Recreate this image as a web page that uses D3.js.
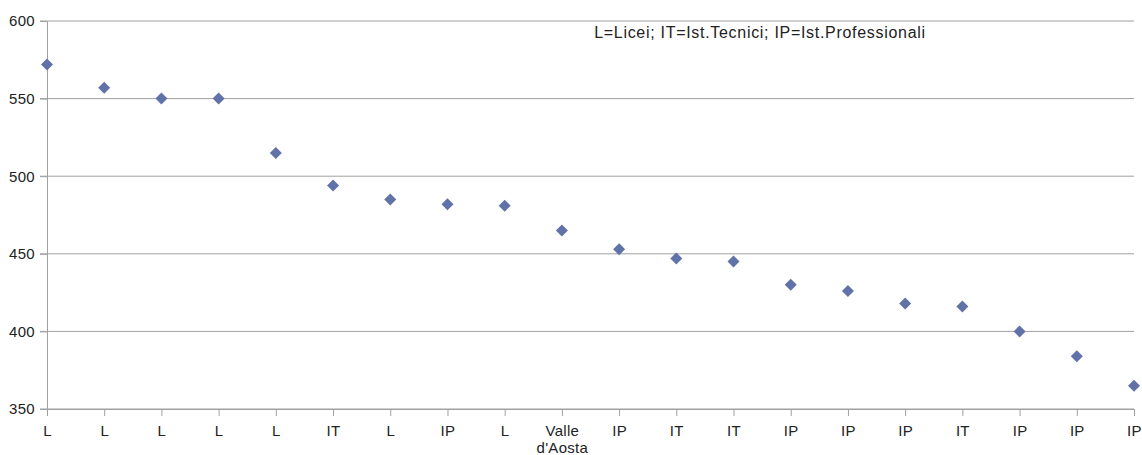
<!DOCTYPE html>
<html>
<head>
<meta charset="utf-8">
<script src="https://cdn.jsdelivr.net/npm/d3@7"></script>
<style>
  body { margin: 0; background: #fff; }
  svg text { font-family: "Liberation Sans", Arial, sans-serif; fill: #222; }
</style>
</head>
<body>
<div id="chart"></div>
<script>
// Categories (school type), one per point.
const categories = ["L", "L", "L", "L", "L", "IT", "L", "IP", "L", "Valle\nd'Aosta",
  "IP", "IT", "IT", "IP", "IP", "IP", "IT", "IP", "IP", "IP"];
// Scores.
const scores = [572, 557, 550, 550, 515, 494, 485, 482, 481, 465,
  453, 447, 445, 430, 426, 418, 416, 400, 384, 365];
const yTicks = [350, 400, 450, 500, 550, 600];
const note = "L=Licei; IT=Ist.Tecnici; IP=Ist.Professionali";

const width = 1142, height = 455;
const margin = { top: 21, right: 8, bottom: 46, left: 47 };

const svg = d3.select("#chart").append("svg")
  .attr("width", width).attr("height", height);

const x = d3.scalePoint()
  .domain(d3.range(categories.length))
  .range([margin.left, width - margin.right]);

const y = d3.scaleLinear()
  .domain([350, 600])
  .range([height - margin.bottom, margin.top]);

// Gridlines.
svg.append("g")
  .selectAll("line")
  .data(yTicks)
  .join("line")
  .attr("x1", margin.left - 7)
  .attr("x2", width - margin.right)
  .attr("y1", (d) => y(d))
  .attr("y2", (d) => y(d))
  .attr("stroke", "#a0a0a0")
  .attr("stroke-width", 1);

// Y axis.
const yAxis = svg.append("g")
  .attr("transform", `translate(${margin.left},0)`)
  .call(d3.axisLeft(y).tickValues(yTicks).tickSize(7).tickPadding(5));
yAxis.select(".domain").attr("stroke", "#a0a0a0");
yAxis.selectAll(".tick line").attr("stroke", "#a0a0a0");
yAxis.selectAll(".tick text")
  .style("font-size", "15px")
  .style("letter-spacing", "0.3px")
  .attr("fill", "#222");

// X axis.
const xAxis = svg.append("g")
  .attr("transform", `translate(0,${height - margin.bottom})`)
  .call(d3.axisBottom(x).tickSize(7).tickPadding(9).tickFormat(() => ""));
xAxis.select(".domain").attr("stroke", "#a0a0a0");
xAxis.selectAll(".tick line").attr("stroke", "#a0a0a0");
xAxis.selectAll(".tick text")
  .style("font-size", "15px")
  .style("letter-spacing", "0.3px")
  .attr("fill", "#222")
  .each(function (i) {
    const t = d3.select(this);
    categories[i].split("\n").forEach((line, k) => {
      t.append("tspan")
        .attr("x", 0)
        .attr("dy", k === 0 ? "0.71em" : "1.15em")
        .text(line);
    });
  });

// Points (diamonds).
svg.append("g")
  .selectAll("path")
  .data(scores)
  .join("path")
  .attr("transform", (d, i) => `translate(${x(i)},${y(d)})`)
  .attr("d", "M0,-6L6,0L0,6L-6,0Z")
  .attr("fill", "#6072a8");

// Legend note.
svg.append("text")
  .attr("x", 760)
  .attr("y", 38)
  .attr("text-anchor", "middle")
  .style("font-size", "16px")
  .style("letter-spacing", "0.7px")
  .text(note);
</script>
</body>
</html>
